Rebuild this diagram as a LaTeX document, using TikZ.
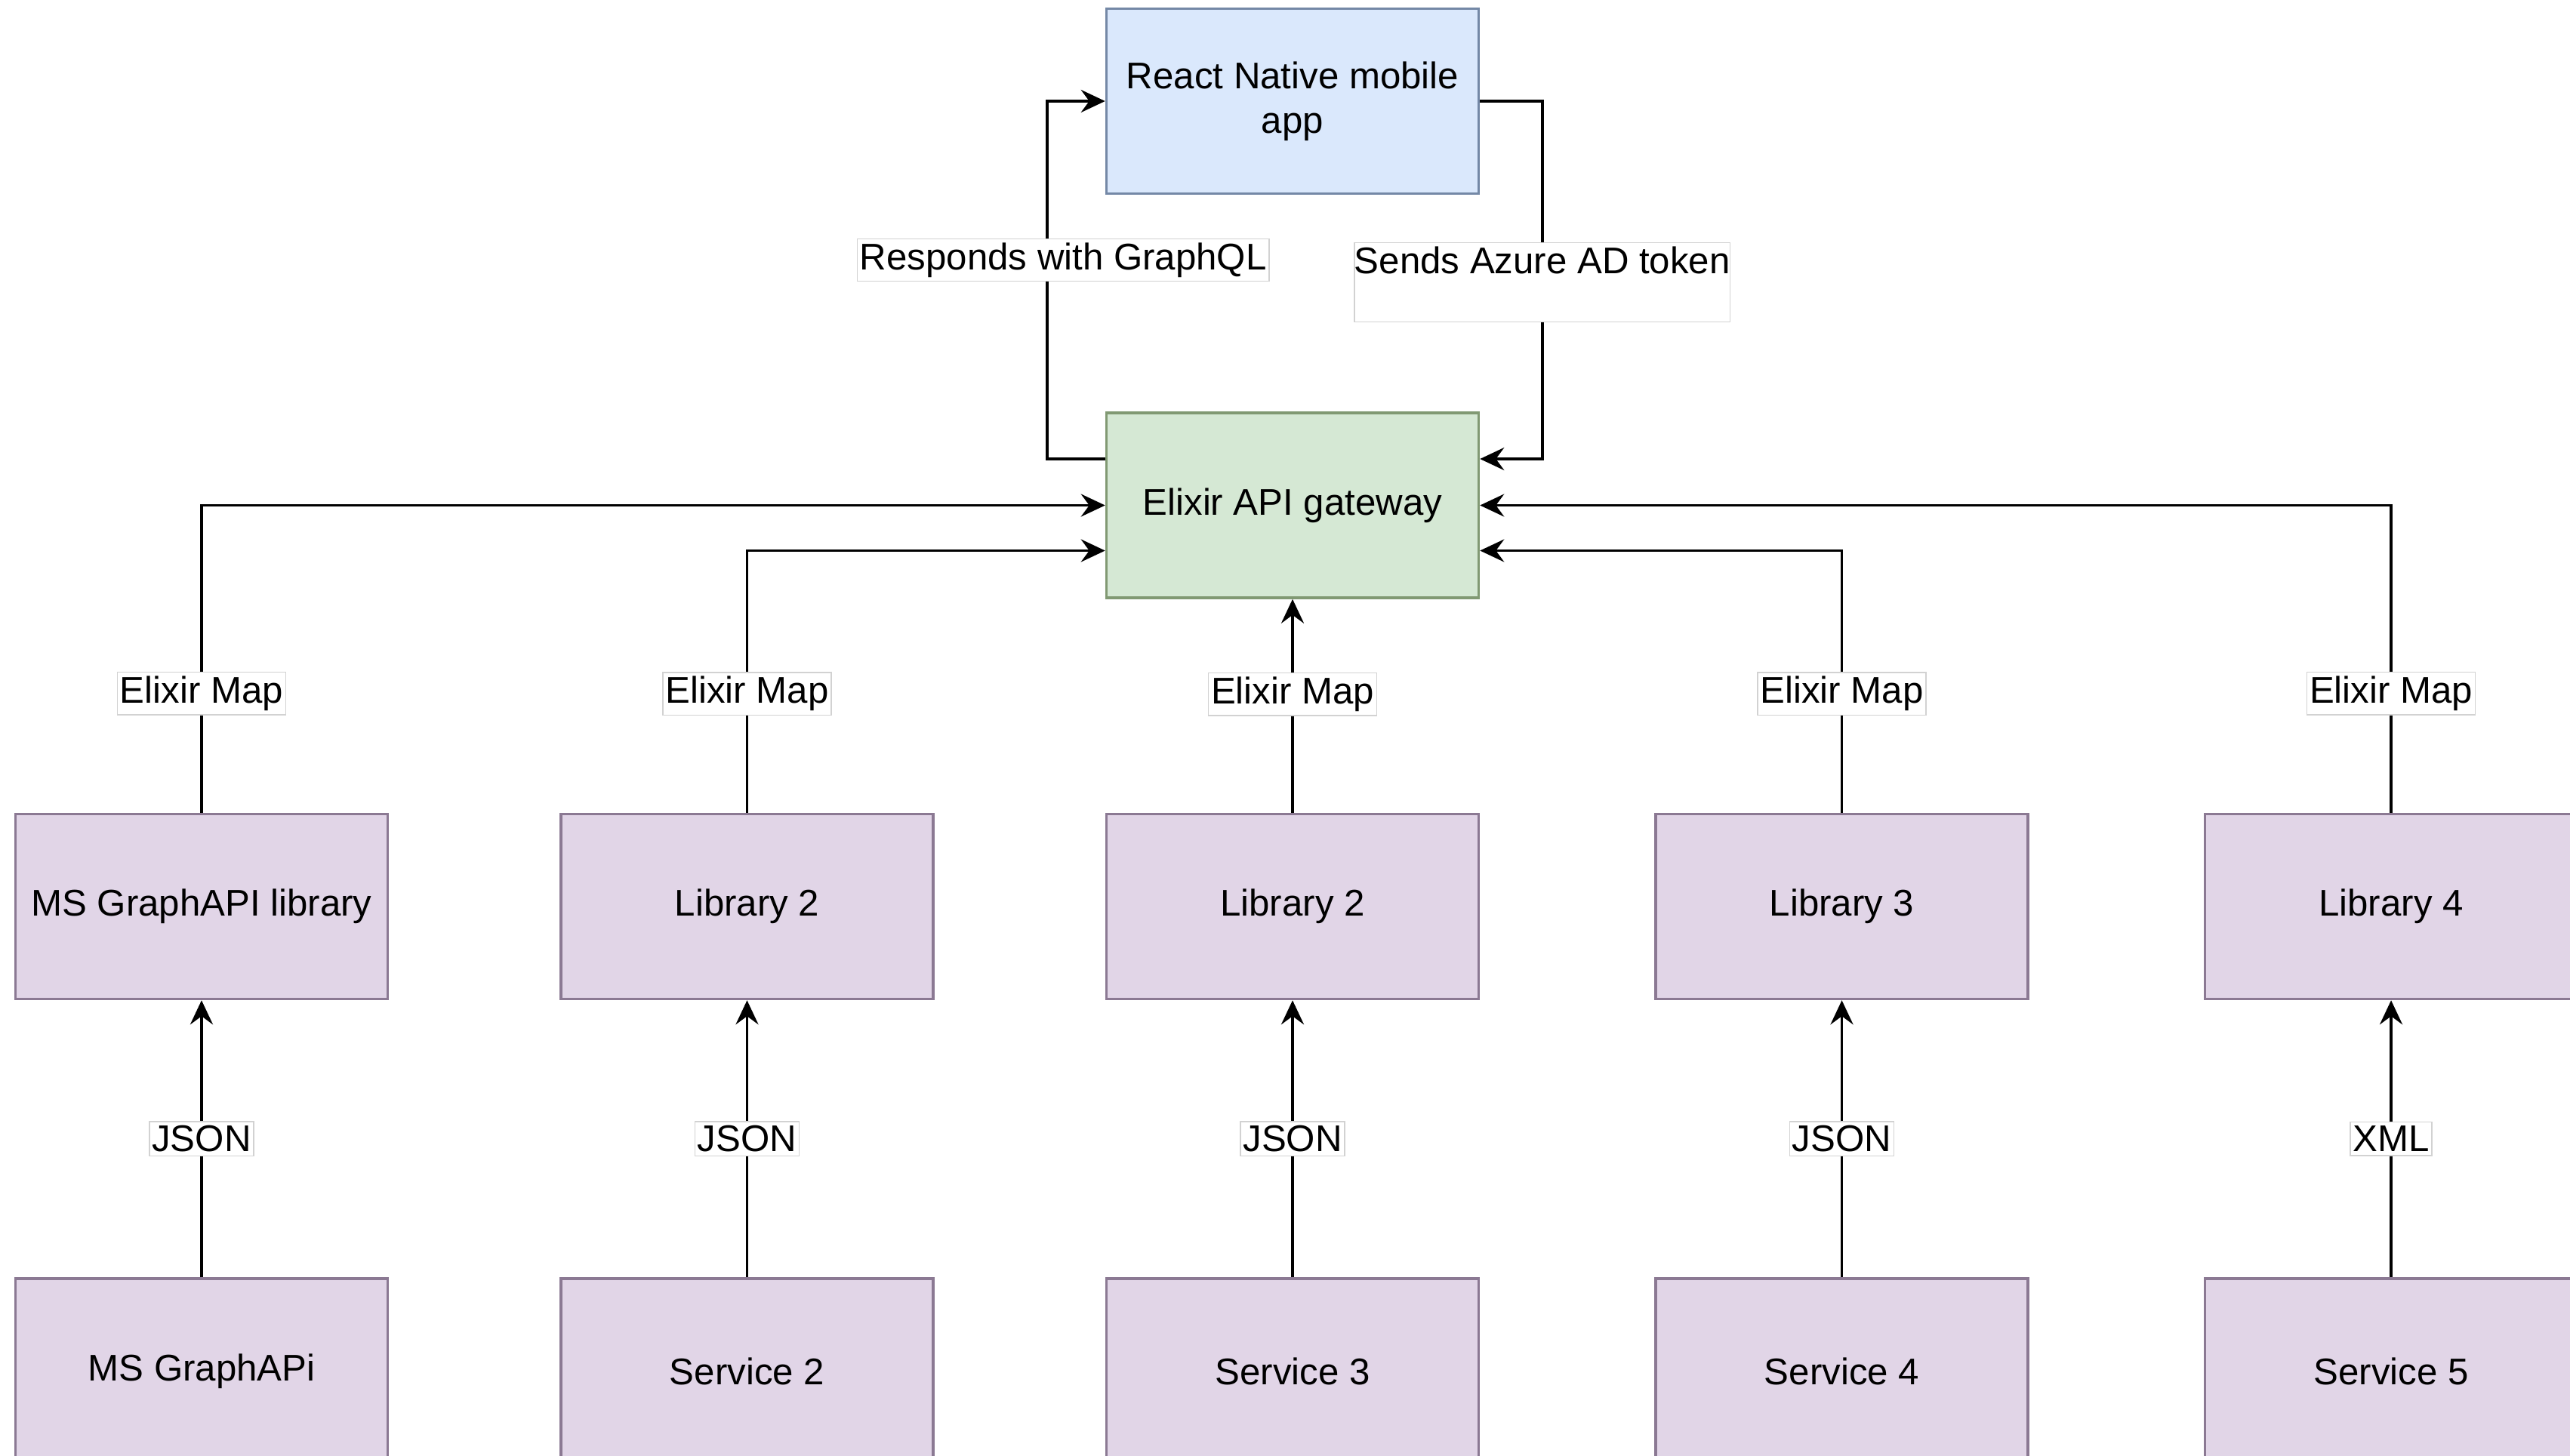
\documentclass[tikz,border=0pt]{standalone}
\usepackage{fontspec}
\setmainfont{Liberation Sans}
\usetikzlibrary{arrows.meta,positioning}
\definecolor{appfill}{HTML}{DAE8FC}
\definecolor{appline}{HTML}{6C8EBF}
\definecolor{gwfill}{HTML}{D5E8D4}
\definecolor{gwline}{HTML}{82B366}
\definecolor{libfill}{HTML}{E1D5E7}
\definecolor{libline}{HTML}{9673A6}

\begin{document}
\begin{tikzpicture}[>={Stealth[length=3.2mm,width=3mm,inset=1.1mm]}, line width=1.1pt,
  every node/.append style={align=center, font=\fontsize{14}{16.7}\selectfont},
  box/.style={draw, line width=1pt, minimum width=4.93cm, minimum height=2.45cm},
  appbox/.style={box, fill=appfill, draw=appline!60!gray},
  gwbox/.style={box, fill=gwfill, draw=gwline!50!gray},
  libbox/.style={box, fill=libfill, draw=libline!50!gray},
  lbl/.style={fill=white, draw=gray!35, line width=0.4pt, inner xsep=1pt, inner ysep=1.5pt}]
 \useasboundingbox (0,0) rectangle (34.04,-19.28);

 \node [gwbox] (gw) at (17.12,-6.695) {Elixir API gateway};
 \node [appbox, above=2.87cm of gw] (app) {React Native mobile\\app};

 \node [libbox, below=2.83cm of gw] (lib3) {Library 2};
 \node [libbox, left=2.26cm of lib3] (lib2) {Library 2};
 \node [libbox, left=2.26cm of lib2] (lib1) {MS GraphAPI library};
 \node [libbox, right=2.31cm of lib3] (lib4) {Library 3};
 \node [libbox, right=2.31cm of lib4] (lib5) {Library 4};

 \node [libbox, below=3.67cm of lib1] (svc1) {MS GraphAPi};
 \node [libbox, below=3.67cm of lib2] (svc2) {Service 2};
 \node [libbox, below=3.67cm of lib3] (svc3) {Service 3};
 \node [libbox, below=3.67cm of lib4] (svc4) {Service 4};
 \node [libbox, below=3.67cm of lib5] (svc5) {Service 5};

 % app <-> gateway
 \draw [->] ([yshift=0.615cm]gw.west) -- ++(-0.765,0)
   |- node [lbl, pos=0.278, xshift=0.21cm] {Responds with GraphQL} (app.west);
 \draw [->] (app.east) -- ++(0.825,0)
   |- node [lbl, pos=0.253, inner xsep=0pt] {Sends Azure AD token\\\mbox{}} ([yshift=0.615cm]gw.east);

 % libraries -> gateway
 \draw [->] (lib1.north) |- node [lbl, pos=0.194] {Elixir Map} (gw.west);
 \draw [->] (lib2.north) |- node [lbl, pos=0.227] {Elixir Map} ([yshift=-0.6cm]gw.west);
 \draw [->] (lib3.north) -- node [lbl, pos=0.555] {Elixir Map} (gw.south);
 \draw [->] (lib4.north) |- node [lbl, pos=0.227] {Elixir Map} ([yshift=-0.6cm]gw.east);
 \draw [->] (lib5.north) |- node [lbl, pos=0.194] {Elixir Map} (gw.east);

 % services -> libraries
 \draw [->] (svc1) -- node [lbl] {JSON} (lib1);
 \draw [->] (svc2) -- node [lbl] {JSON} (lib2);
 \draw [->] (svc3) -- node [lbl] {JSON} (lib3);
 \draw [->] (svc4) -- node [lbl] {JSON} (lib4);
 \draw [->] (svc5) -- node [lbl] {XML} (lib5);
\end{tikzpicture}
\end{document}
